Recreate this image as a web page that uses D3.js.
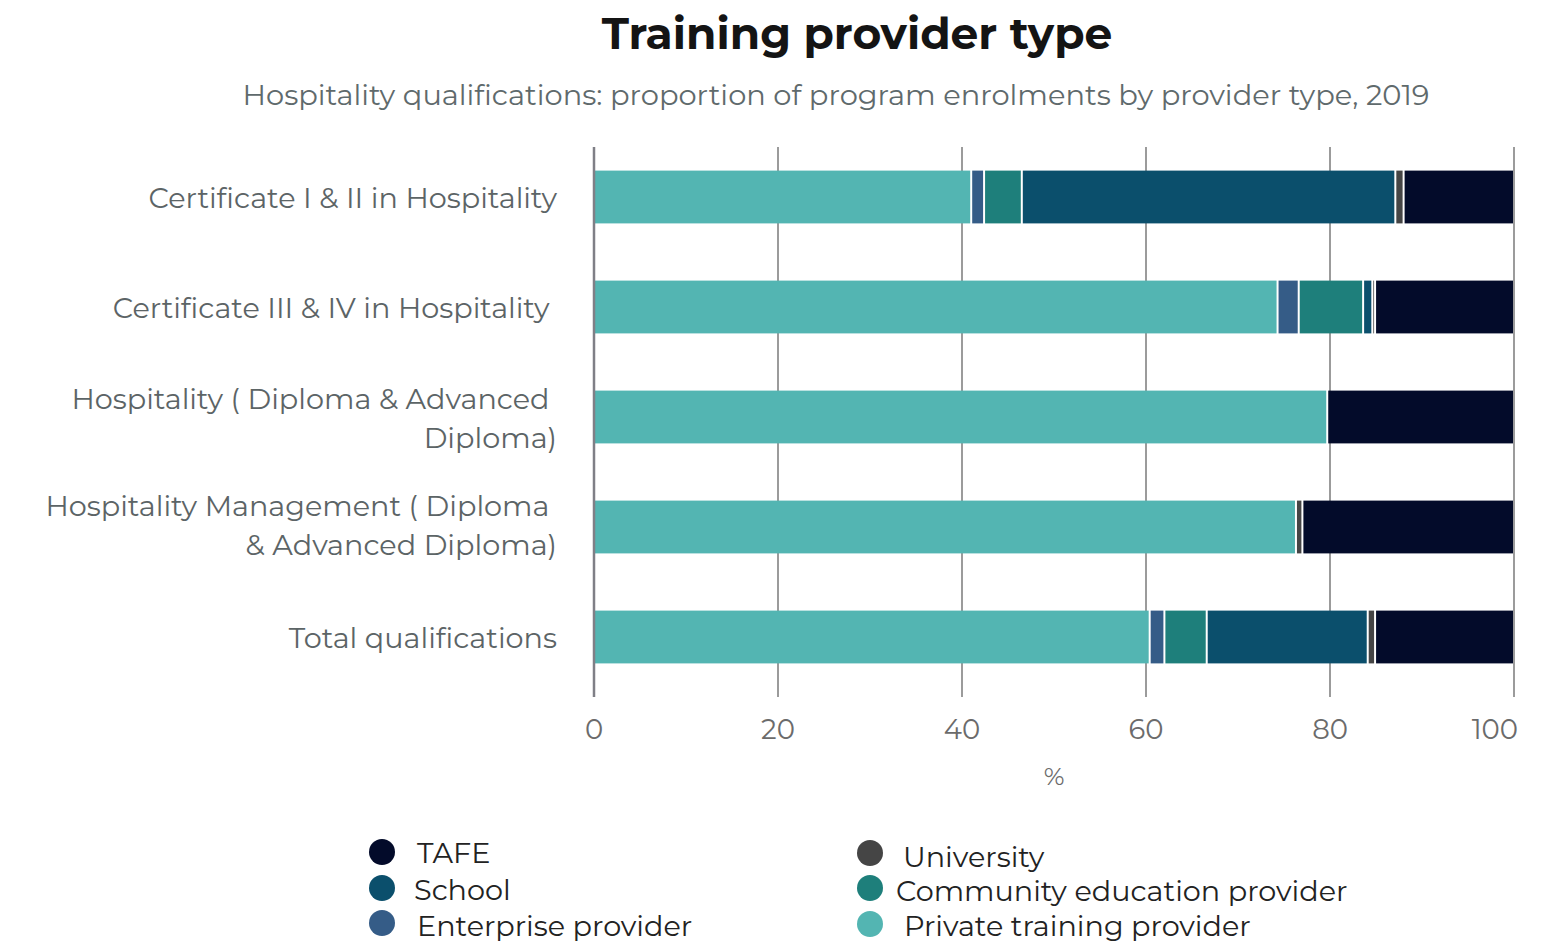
<!DOCTYPE html>
<html>
<head>
<meta charset="utf-8">
<script src="https://cdn.jsdelivr.net/npm/d3@7"></script>
<style>
  html, body { margin: 0; padding: 0; background: #ffffff; }
  svg { display: block; }
  text { font-family: "Montserrat", "Open Sans", "Noto Sans", sans-serif; white-space: pre; }
</style>
</head>
<body>
<svg id="chart" width="1558" height="945"></svg>
<script>
const categories = [
  ["Certificate I & II in Hospitality"],
  ["Certificate III & IV in Hospitality "],
  ["Hospitality ( Diploma & Advanced ", "Diploma)"],
  ["Hospitality Management ( Diploma ", "& Advanced Diploma)"],
  ["Total qualifications"]
];
const seriesNames = ["Private training provider", "Enterprise provider", "Community education provider", "School", "University", "TAFE"];
const privateTraining = [41.0, 74.3, 79.7, 76.3, 60.4];
const enterprise      = [1.4, 2.3, 0, 0, 1.6];
const community       = [4.1, 7.0, 0, 0, 4.6];
const school          = [40.6, 1.0, 0, 0, 17.5];
const university      = [0.9, 0.3, 0, 0.7, 0.8];
const tafe            = [12.0, 15.1, 20.3, 23.0, 15.1];
const xTicks = [0, 20, 40, 60, 80, 100];
const legendOrder = ["TAFE", "School", "Enterprise provider", "University", "Community education provider", "Private training provider"];

const colors = {
  "TAFE": "#030b2a",
  "School": "#0b4f6c",
  "Enterprise provider": "#355c87",
  "University": "#454545",
  "Community education provider": "#1e7f7b",
  "Private training provider": "#53b5b2"
};

const seriesValues = [privateTraining, enterprise, community, school, university, tafe];
const keys = categories.map(c => c.join(" "));
const rows = keys.map((k, i) => {
  const r = { key: k };
  seriesNames.forEach((s, j) => r[s] = seriesValues[j][i]);
  return r;
});

const svg = d3.select("#chart");
const x = d3.scaleLinear().domain([0, 100]).range([594, 1514]);
const y = d3.scaleBand().domain(keys).range([142, 692]).paddingInner(0.52).paddingOuter(0.26);

// title
svg.append("text").attr("x", 857).attr("y", 49).attr("text-anchor", "middle")
  .attr("font-size", 44).attr("font-weight", 700).attr("fill", "#141414")
  .text("Training provider type");
svg.append("text").attr("x", 836).attr("y", 105).attr("text-anchor", "middle")
  .attr("font-size", 28.9).attr("fill", "#5f6a6c")
  .text("Hospitality qualifications: proportion of program enrolments by provider type, 2019");

// grid
svg.append("g").selectAll("line").data(xTicks.slice(1)).join("line")
  .attr("x1", d => x(d)).attr("x2", d => x(d))
  .attr("y1", 147).attr("y2", 697)
  .attr("stroke", "#7a7a7a").attr("stroke-width", 1.5);

// stacked bars
const stack = d3.stack().keys(seriesNames);
const stacked = stack(rows);
svg.append("g").selectAll("g").data(stacked).join("g")
  .attr("fill", d => colors[d.key])
  .selectAll("rect").data(d => d.filter(p => p[1] - p[0] > 0)).join("rect")
  .attr("x", d => x(d[0]) + 1)
  .attr("width", d => Math.max(0, x(d[1]) - x(d[0]) - 2))
  .attr("y", d => y(d.data.key))
  .attr("height", y.bandwidth());

// zero axis line
svg.append("line").attr("x1", x(0)).attr("x2", x(0)).attr("y1", 147).attr("y2", 697)
  .attr("stroke", "#7f7f86").attr("stroke-width", 2.5);

// tick labels
svg.append("g").selectAll("text").data(xTicks).join("text")
  .attr("x", (d, i) => i === xTicks.length - 1 ? x(d) + 4 : x(d))
  .attr("y", 739)
  .attr("text-anchor", (d, i) => i === xTicks.length - 1 ? "end" : "middle")
  .attr("font-size", 27.5).attr("fill", "#6b6b6b")
  .text(d => d);
svg.append("text").attr("x", 1054).attr("y", 785).attr("text-anchor", "middle")
  .attr("font-size", 25).attr("fill", "#6b6b6b").text("%");

// category labels
const labelG = svg.append("g");
categories.forEach((lines, i) => {
  const cy = y(keys[i]) + y.bandwidth() / 2;
  const lh = 39;
  const off = i === 3 ? -3 : 0;
  const t = labelG.append("text").attr("text-anchor", "end").attr("font-size", 28.7).attr("fill", "#5c6466");
  lines.forEach((ln, j) => {
    t.append("tspan").attr("x", 557)
      .attr("y", cy - (lines.length - 1) * lh / 2 + j * lh + 11 + off)
      .text(ln);
  });
});

// legend
const legPos = [
  { cx: 382, cy: 852, tx: 417, ty: 853 },
  { cx: 382, cy: 888, tx: 414, ty: 890 },
  { cx: 382, cy: 923, tx: 417, ty: 926 },
  { cx: 870, cy: 853, tx: 903, ty: 857 },
  { cx: 870, cy: 888, tx: 896, ty: 891 },
  { cx: 870, cy: 924, tx: 904, ty: 926 }
];
const leg = svg.append("g").selectAll("g").data(legendOrder).join("g");
leg.append("circle").attr("cx", (d, i) => legPos[i].cx).attr("cy", (d, i) => legPos[i].cy)
  .attr("r", 13).attr("fill", d => colors[d]);
leg.append("text").attr("x", (d, i) => legPos[i].tx).attr("y", (d, i) => legPos[i].ty + 10)
  .attr("font-size", 28.7).attr("fill", "#222").text(d => d);
</script>
</body>
</html>
